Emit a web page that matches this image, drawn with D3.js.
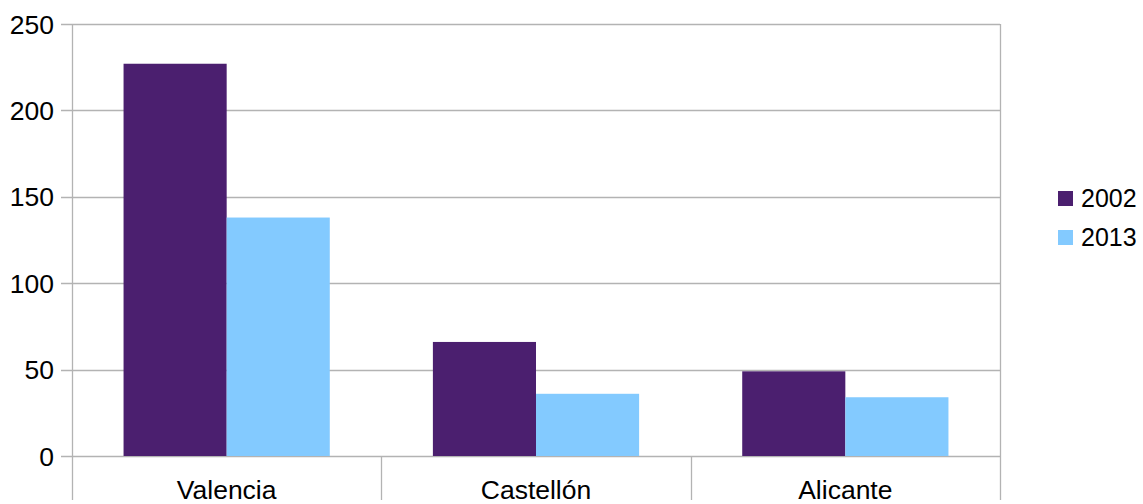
<!DOCTYPE html>
<html>
<head>
<meta charset="utf-8">
<script src="https://cdn.jsdelivr.net/npm/d3@7"></script>
<style>
  html, body { margin: 0; padding: 0; background: #fff; }
  svg { display: block; }
  text { font-family: "Liberation Sans", Arial, sans-serif; fill: #000; }
</style>
</head>
<body>
<svg id="chart" width="1143" height="504"></svg>
<script>
const categories = ["Valencia", "Castellón", "Alicante"];
const seriesNames = ["2002", "2013"];
const values2002 = [227, 66, 49];
const values2013 = [138, 36, 34];
const yTicks = [0, 50, 100, 150, 200, 250];
const colors = ["#4b1f6f", "#83caff"];

(function () {
const series = [values2002, values2013];
const svg = d3.select("#chart");
const W = 1143, H = 504;
const mLeft = 72, mRight = 1000, mTop = 24, mBottom = 456;
const fontSize = 26.5;

const x = d3.scaleBand().domain(categories).range([mLeft, mRight]).paddingInner(0).paddingOuter(0);
const y = d3.scaleLinear().domain([0, 250]).range([mBottom, mTop]);
const xs = d3.scaleBand().domain(seriesNames).range([0, x.bandwidth()]).paddingOuter(0.5).paddingInner(0);

const grid = "#b3b3b3";

// horizontal gridlines + ticks
svg.append("g").selectAll("line").data(yTicks).join("line")
  .attr("x1", mLeft - 11).attr("x2", mRight)
  .attr("y1", d => Math.round(y(d)) + 0.5).attr("y2", d => Math.round(y(d)) + 0.5)
  .attr("stroke", grid).attr("stroke-width", 1.3);

// left/right vertical lines
svg.append("g").selectAll("line").data([mLeft, mRight]).join("line")
  .attr("x1", d => d + 0.5).attr("x2", d => d + 0.5)
  .attr("y1", mTop).attr("y2", H - 4)
  .attr("stroke", grid).attr("stroke-width", 1.3);

// category separators below axis
const seps = categories.slice(1).map(c => x(c));
svg.append("g").selectAll("line").data(seps).join("line")
  .attr("x1", d => Math.round(d) + 0.5).attr("x2", d => Math.round(d) + 0.5)
  .attr("y1", mBottom).attr("y2", H - 4)
  .attr("stroke", grid).attr("stroke-width", 1.3);

// bars
seriesNames.forEach((s, si) => {
  svg.append("g").selectAll("rect").data(categories).join("rect")
    .attr("x", c => x(c) + xs(s))
    .attr("width", xs.bandwidth())
    .attr("y", (c, i) => y(series[si][i]))
    .attr("height", (c, i) => y(0) - y(series[si][i]))
    .attr("fill", colors[si]);
});

// y labels
svg.append("g").selectAll("text").data(yTicks).join("text")
  .attr("x", 54).attr("y", d => y(d))
  .attr("dy", "0.36em")
  .attr("text-anchor", "end")
  .style("font-size", fontSize + "px")
  .text(d => d);

// x labels
svg.append("g").selectAll("text").data(categories).join("text")
  .attr("x", c => x(c) + x.bandwidth() / 2)
  .attr("y", 499)
  .attr("text-anchor", "middle")
  .style("font-size", fontSize + "px")
  .text(c => c);

// legend
const lg = svg.append("g");
seriesNames.forEach((s, i) => {
  const yy = 191 + i * 39;
  lg.append("rect").attr("x", 1058).attr("y", yy).attr("width", 15).attr("height", 15).attr("fill", colors[i]);
  lg.append("text").attr("x", 1081).attr("y", yy + 16).style("font-size", "25px").text(s);
});
})();
</script>
</body>
</html>
